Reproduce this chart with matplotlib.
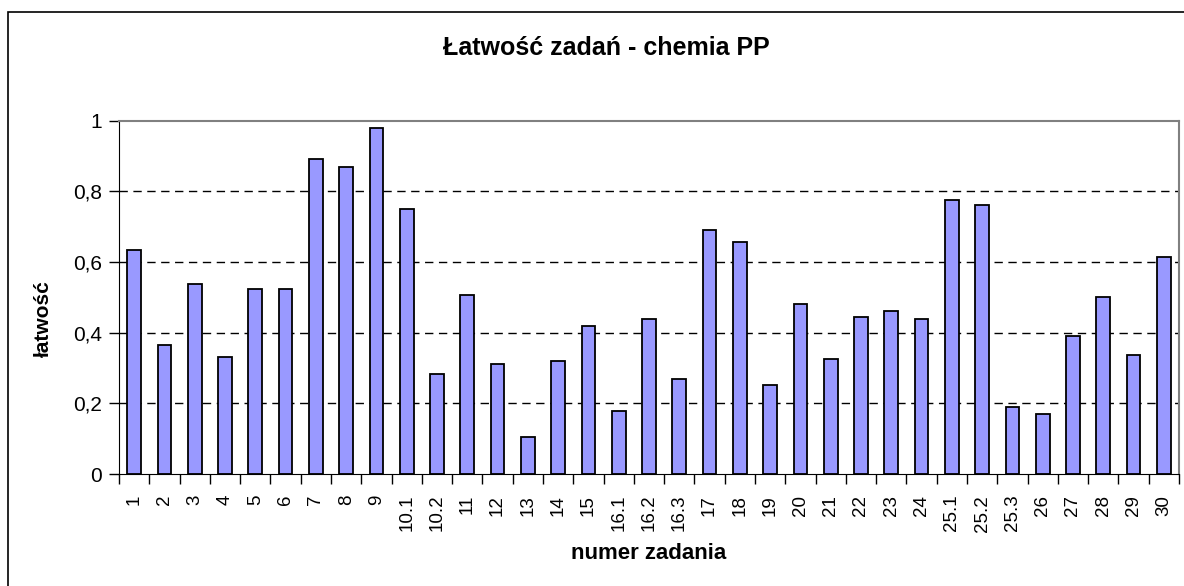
import matplotlib
matplotlib.use("Agg")
import matplotlib.pyplot as plt
from matplotlib.patches import Rectangle
from matplotlib.ticker import FuncFormatter
import numpy as np

plt.rcParams['font.family'] = ['Liberation Sans', 'DejaVu Sans']

# dane
zadania = ['1', '2', '3', '4', '5', '6', '7', '8', '9', '10.1', '10.2', '11', '12',
           '13', '14', '15', '16.1', '16.2', '16.3', '17', '18', '19', '20', '21',
           '22', '23', '24', '25.1', '25.2', '25.3', '26', '27', '28', '29', '30']
latwosc = [0.633, 0.365, 0.537, 0.331, 0.525, 0.525, 0.892, 0.868, 0.979, 0.751,
           0.282, 0.507, 0.311, 0.106, 0.321, 0.419, 0.179, 0.439, 0.268, 0.692,
           0.658, 0.253, 0.482, 0.326, 0.443, 0.462, 0.439, 0.775, 0.761, 0.190,
           0.170, 0.390, 0.502, 0.336, 0.614]

fig = plt.figure(figsize=(11.84, 5.86), dpi=100)
ax = fig.add_axes([119 / 1184, 1 - 474 / 586, 1060 / 1184, 353.3 / 586])

x = np.arange(len(zadania))
ax.bar(x, latwosc, width=0.45, color='#9999FF', edgecolor='black', linewidth=1.3, zorder=3)

ax.set_xlim(-0.5, len(zadania) - 0.5)
ax.set_ylim(0, 1)
ax.set_yticks(np.arange(0, 1.01, 0.2))
ax.yaxis.set_major_formatter(FuncFormatter(lambda v, p: ('%g' % round(v, 1)).replace('.', ',')))
ax.tick_params(axis='y', direction='out', length=7, width=1, labelsize=15, pad=5)

# etykiety pod słupkami, kreski między kategoriami
ax.set_xticks(x)
ax.set_xticklabels(zadania, rotation=90, fontsize=13.5)
ax.set_xticks(np.arange(-0.5, len(zadania)), minor=True)
ax.tick_params(axis='x', which='major', length=0, pad=15)
ax.tick_params(axis='x', which='minor', direction='out', length=7, width=1)

for v in [0.2, 0.4, 0.6, 0.8]:
    ax.axhline(v, color='black', linestyle=(0, (6, 4)), linewidth=1, zorder=1)

ax.spines['top'].set_color('#808080')
ax.spines['right'].set_color('#808080')
ax.spines['top'].set_linewidth(1.5)
ax.spines['right'].set_linewidth(1.5)
ax.spines['left'].set_color('black')
ax.spines['bottom'].set_color('black')

ax.set_ylabel('łatwość', fontsize=15, fontweight='bold')
ax.yaxis.set_label_coords(-0.062, 0.44)
ax.set_xlabel('numer zadania', fontsize=16, fontweight='bold', labelpad=8)
fig.text(606 / 1184, 1 - 48 / 586, 'Łatwość zadań - chemia PP', ha='center', va='center',
         fontsize=18, fontweight='bold')

# ramka obszaru wykresu
fig.patches.append(Rectangle((8 / 1184, -0.05), 1.2, 1 - 12 / 586 + 0.05,
                             transform=fig.transFigure, fill=False,
                             edgecolor='black', linewidth=1.2))

fig.savefig('out.png', dpi=100)
